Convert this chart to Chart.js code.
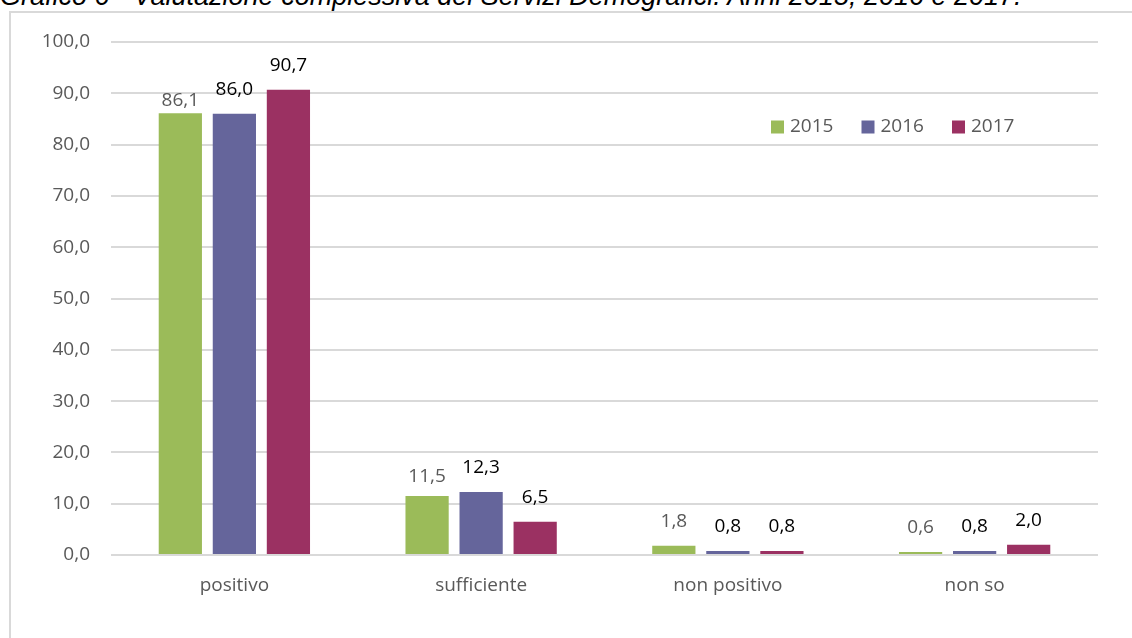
<!DOCTYPE html>
<html>
<head>
<meta charset="utf-8">
<script src="https://cdn.jsdelivr.net/npm/chart.js@4/dist/chart.umd.min.js"></script>
<style>
	html, body { margin: 0; padding: 0; background: #fff; overflow: hidden; }
	#titolo {
		position: absolute; left: 0; top: -16px; white-space: nowrap;
		font-family: "Liberation Sans", Arial, sans-serif; font-style: italic;
		font-size: 27px; line-height: 24px; color: #000;
	}
	#cornice {
		position: absolute; left: 9px; top: 11px; width: 1200px; height: 700px;
		border: 2px solid #d9d9d9;
	}
	#wrap { position: absolute; left: 0; top: 0; width: 1132px; height: 638px; }
</style>
</head>
<body>
<div id="titolo">Grafico 6 - Valutazione complessiva dei Servizi Demografici. Anni 2015, 2016 e 2017.</div>
<div id="cornice"></div>
<div id="wrap"><canvas id="grafico"></canvas></div>
<script>
var categorie = ['positivo', 'sufficiente', 'non positivo', 'non so'];
var anni = ['2015', '2016', '2017'];
var valori2015 = [86.1, 11.5, 1.8, 0.6];
var valori2016 = [86.0, 12.3, 0.8, 0.8];
var valori2017 = [90.7, 6.5, 0.8, 2.0];
var tickY = [0, 10, 20, 30, 40, 50, 60, 70, 80, 90, 100];

var colori = ['#9bbb59', '#65659b', '#9b3162'];
var coloriEtichette = ['#595959', '#000000', '#000000'];
var FONT = '"Open Sans", sans-serif';

function formatta(v) {
	return v.toFixed(1).replace('.', ',');
}

var etichettePlugin = {
	id: 'etichette',
	afterDatasetsDraw: function(chart, args, opts) {
		var ctx = chart.ctx;
		ctx.save();
		ctx.font = '19px ' + FONT;
		ctx.textAlign = 'center';
		ctx.textBaseline = 'alphabetic';
		chart.data.datasets.forEach(function(ds, i) {
			chart.getDatasetMeta(i).data.forEach(function(bar, j) {
				var lift = (opts.lift[i + ':' + j] != null) ? opts.lift[i + ':' + j] : opts.liftDefault;
				ctx.fillStyle = coloriEtichette[i];
				ctx.fillText(formatta(ds.data[j]), bar.x, bar.y - lift);
			});
		});
		ctx.restore();
	}
};

var legendaPlugin = {
	id: 'legenda',
	afterDraw: function(chart, args, opts) {
		var ctx = chart.ctx;
		ctx.save();
		ctx.font = '19px ' + FONT;
		ctx.textBaseline = 'middle';
		var x = opts.x;
		chart.data.datasets.forEach(function(ds) {
			ctx.fillStyle = ds.backgroundColor;
			ctx.fillRect(x, opts.y - 6.5, 13, 13);
			ctx.fillStyle = '#595959';
			ctx.fillText(ds.label, x + 19, opts.y);
			x += opts.step;
		});
		ctx.restore();
	}
};

var dati = [valori2015, valori2016, valori2017];

new Chart(document.getElementById('grafico').getContext('2d'), {
	type: 'bar',
	data: {
		labels: categorie,
		datasets: anni.map(function(a, i) {
			return {
				label: a,
				data: dati[i],
				backgroundColor: colori[i],
				categoryPercentage: 0.657,
				barPercentage: 0.8
			};
		})
	},
	options: {
		responsive: true,
		maintainAspectRatio: false,
		animation: false,
		layout: { padding: { left: 0, right: 34, top: 42, bottom: 0 } },
		plugins: {
			legend: { display: false },
			tooltip: { enabled: false },
			etichette: { liftDefault: 19, lift: { '0:0': 7, '0:1': 14 } },
			legenda: { x: 771, y: 127, step: 90.5 }
		},
		scales: {
			x: {
				grid: { display: false },
				border: { display: false },
				ticks: { color: '#595959', font: { family: FONT, size: 19 }, padding: 11 },
				afterFit: function(s) { s.height = 83; }
			},
			y: {
				min: 0,
				max: 100,
				afterBuildTicks: function(s) { s.ticks = tickY.map(function(v) { return { value: v }; }); },
				grid: { color: '#d9d9d9', lineWidth: 2, drawTicks: false },
				border: { display: false },
				ticks: {
					color: '#595959',
					font: { family: FONT, size: 19 },
					padding: 21,
					callback: function(v) { return formatta(v); }
				},
				afterFit: function(s) { s.width = 111; }
			}
		}
	},
	plugins: [etichettePlugin, legendaPlugin]
});
</script>
</body>
</html>
